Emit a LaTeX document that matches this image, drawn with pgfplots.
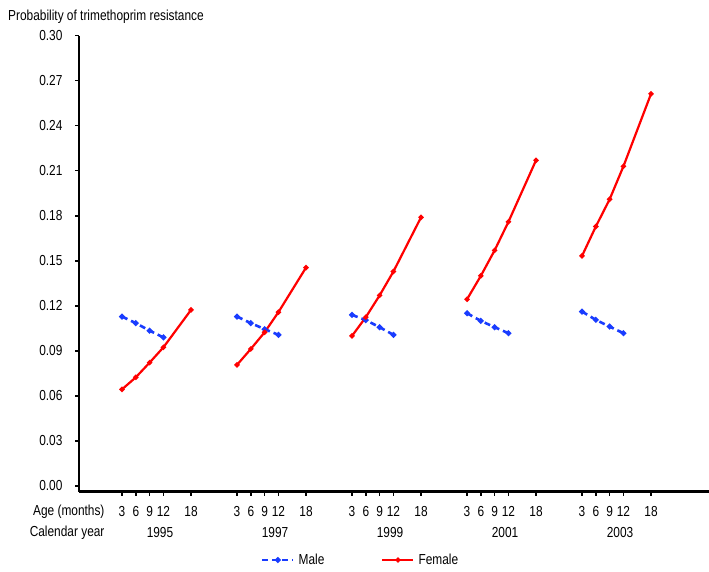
\documentclass[border=0pt]{standalone}
\usepackage{fontspec}
\setmainfont{Liberation Sans}[FakeStretch=0.82]
\usepackage{pgfplots}
\pgfplotsset{compat=1.18}
\newcommand\f{\fontsize{14.5}{17}\selectfont}
\definecolor{mblue}{RGB}{25,60,255}
\definecolor{fred}{RGB}{255,0,0}
\begin{document}
\begin{tikzpicture}[x=1pt,y=1pt]
\useasboundingbox (0,0) rectangle (709,571);
\begin{axis}[at={(79pt,79.3pt)}, anchor=south west, scale only axis,
  width=630pt, height=456pt,
  xmin=-6.35, xmax=130.6, ymin=-0.0038, ymax=0.30,
  axis x line=bottom, axis y line=left,
  axis line style={-, line width=2.6pt, black},
  tick align=outside, major tick length=4pt,
  tick style={black, line width=1.4pt},
  ytick={0,0.03,0.06,0.09,0.12,0.15,0.18,0.21,0.24,0.27,0.30},
  yticklabel style={font=\f, xshift=-9pt, /pgf/number format/.cd, fixed, fixed zerofill, precision=2, assume math mode=true},
  xtick={3,6,9,12,18,28,31,34,37,43,53,56,59,62,68,78,81,84,87,93,103,106,109,112,118},
  xticklabels={3,6,9,12,18,3,6,9,12,18,3,6,9,12,18,3,6,9,12,18,3,6,9,12,18},
  xticklabel style={font=\f, yshift=-7pt},
  clip=false,
  legend columns=2,
  legend style={at={(0.447,-0.1498)}, anchor=center, draw=none, fill=none, font=\f,
    /tikz/every even column/.append style={column sep=55pt},
    /tikz/every odd column/.append style={column sep=2pt}},
  legend image code/.code={\draw[#1] (0pt,0pt) -- (31pt,0pt); \draw[#1, solid] plot coordinates {(15.5pt,0pt)};},
]
% Male
\addplot[mblue, line width=2.6pt, dash pattern=on 6pt off 4pt, mark=*, mark size=1.4pt, mark options={solid}]
  coordinates {(3,0.1129) (6,0.1085) (9,0.1035) (12,0.0990)};
\addlegendentry{Male}
\addplot[fred, line width=2.2pt, mark=*, mark size=1.4pt]
  coordinates {(3,0.0644) (6,0.0724) (9,0.0822) (12,0.0924) (18,0.1173)};
\addlegendentry{Female}
\addplot[mblue, line width=2.6pt, dash pattern=on 6pt off 4pt, mark=*, mark size=1.4pt, mark options={solid}, forget plot]
  coordinates {(28,0.1129) (31,0.1085) (34,0.1045) (37,0.1007)};
\addplot[fred, line width=2.2pt, mark=*, mark size=1.4pt, forget plot]
  coordinates {(28,0.0807) (31,0.0913) (34,0.1024) (37,0.1158) (43,0.1455)};
\addplot[mblue, line width=2.6pt, dash pattern=on 6pt off 4pt, mark=*, mark size=1.4pt, mark options={solid}, forget plot]
  coordinates {(53,0.1140) (56,0.1105) (59,0.1058) (62,0.1007)};
\addplot[fred, line width=2.2pt, mark=*, mark size=1.4pt, forget plot]
  coordinates {(53,0.1000) (56,0.1125) (59,0.1270) (62,0.1429) (68,0.1790)};
\addplot[mblue, line width=2.6pt, dash pattern=on 6pt off 4pt, mark=*, mark size=1.4pt, mark options={solid}, forget plot]
  coordinates {(78,0.1151) (81,0.1100) (84,0.1058) (87,0.1018)};
\addplot[fred, line width=2.2pt, mark=*, mark size=1.4pt, forget plot]
  coordinates {(78,0.1244) (81,0.1400) (84,0.1570) (87,0.1760) (93,0.2170)};
\addplot[mblue, line width=2.6pt, dash pattern=on 6pt off 4pt, mark=*, mark size=1.4pt, mark options={solid}, forget plot]
  coordinates {(103,0.1162) (106,0.1107) (109,0.1062) (112,0.1018)};
\addplot[fred, line width=2.2pt, mark=*, mark size=1.4pt, forget plot]
  coordinates {(103,0.1533) (106,0.1729) (109,0.1910) (112,0.2130) (118,0.2613)};
\end{axis}
\node[anchor=west, inner sep=0pt, font=\f] at (8,554) {Probability of trimethoprim resistance};
\node[anchor=east, font=\f] at (108,59) {Age (months)};
\node[anchor=east, font=\f] at (108,38) {Calendar year};
\node[font=\f] at (160,38) {1995};
\node[font=\f] at (275,38) {1997};
\node[font=\f] at (390,38) {1999};
\node[font=\f] at (505,38) {2001};
\node[font=\f] at (620,38) {2003};
\end{tikzpicture}
\end{document}
